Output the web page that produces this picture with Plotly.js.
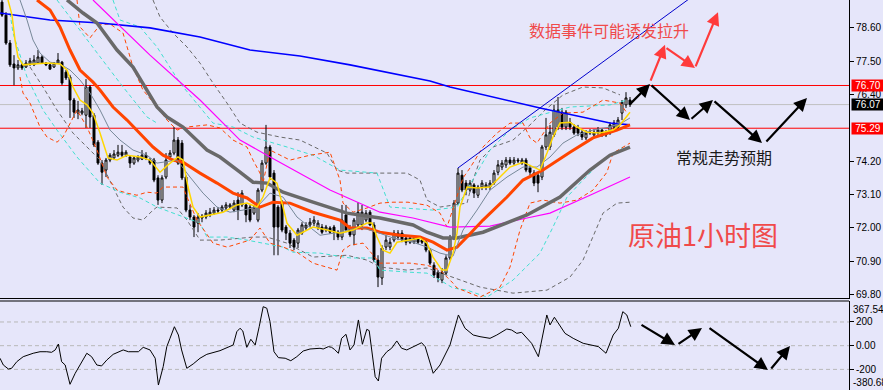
<!DOCTYPE html>
<html><head><meta charset="utf-8">
<script src="https://cdn.plot.ly/plotly-3.0.1.min.js"></script>
<style>html,body{margin:0;padding:0;background:#e6e6fa;}#chart{width:883px;height:390px;}</style>
</head><body><div id="chart"></div>
<script>
// ---- candles (1h crude oil) ----
const barOpen = [79.45,79.02,78.10,77.41,77.28,77.38,77.31,77.41,77.38,77.44,77.64,77.44,77.38,77.31,77.44,77.47,77.14,76.98,76.22,75.79,
75.79,75.72,76.65,75.72,74.83,74.14,73.91,74.24,74.31,74.40,74.50,74.40,74.34,74.14,74.24,74.27,74.40,74.24,74.24,73.65,
72.92,73.68,74.34,74.47,74.90,74.80,73.68,72.59,72.36,72.16,72.33,72.36,72.43,72.49,72.59,72.59,72.66,72.69,72.59,72.92,
72.76,72.76,72.69,72.49,72.26,73.25,74.14,74.67,73.81,72.69,72.82,72.03,71.83,71.60,71.50,71.83,72.00,72.10,72.16,72.00,
72.03,71.93,72.00,72.03,71.86,71.70,72.43,72.00,71.77,72.10,72.10,72.26,72.52,72.10,70.94,70.35,71.37,71.37,71.60,71.70,
71.83,71.67,71.53,71.53,71.67,71.60,71.53,71.27,70.77,70.54,70.28,70.51,71.01,71.67,72.82,73.74,73.48,73.25,73.42,73.08,
73.35,73.35,73.35,73.48,73.84,74.01,74.08,74.24,74.14,74.24,74.14,74.24,73.98,73.81,73.74,73.68,74.67,74.67,75.07,75.33,
75.82,75.33,75.49,75.33,75.30,75.16,74.97,75.13,75.07,75.13,75.23,75.07,75.13,75.33,75.33,75.79,76.06,76.22];
const barHigh = [79.52,79.12,78.20,77.70,77.54,77.44,77.54,77.61,77.70,77.87,77.70,77.47,77.44,77.47,77.77,77.51,77.21,77.05,76.29,76.19,
75.96,76.91,76.71,75.79,74.90,74.24,74.31,74.47,74.57,74.74,74.74,74.57,74.40,74.37,74.40,74.57,74.50,74.31,74.31,73.74,
73.74,74.47,74.57,75.33,75.00,74.90,73.74,72.76,72.43,72.49,72.46,72.59,72.66,72.69,72.69,72.76,72.85,72.82,72.92,73.18,
73.25,72.82,72.76,72.76,73.32,74.24,75.40,74.74,73.91,72.76,72.92,72.10,71.93,71.67,72.00,72.19,72.19,72.33,72.39,72.26,
72.13,72.10,72.06,72.10,71.93,72.76,72.76,72.10,72.33,72.85,72.76,72.59,72.59,72.19,71.10,71.43,71.77,71.67,71.93,71.93,
71.93,71.77,71.73,71.73,71.73,71.70,71.60,71.34,70.87,70.61,70.68,71.10,71.77,72.92,73.98,73.91,73.58,73.58,73.48,73.42,
73.58,73.51,73.58,73.91,74.24,74.24,74.34,74.34,74.34,74.31,74.31,74.31,74.08,73.91,73.84,74.74,75.63,75.40,76.06,76.32,
75.96,75.89,75.63,75.43,75.40,75.23,75.23,75.26,75.26,75.33,75.30,75.23,75.49,75.56,75.66,76.22,76.48,76.32];
const barLow = [78.96,78.04,77.31,76.71,77.21,77.21,77.28,77.34,77.34,77.41,77.41,77.34,77.21,77.28,77.41,76.71,76.88,75.63,75.63,75.59,
75.72,75.30,75.30,74.67,74.08,73.42,73.68,74.17,74.24,74.34,74.34,74.34,73.98,74.08,74.17,74.24,74.24,74.08,73.51,72.76,
72.82,73.61,74.24,74.40,74.08,73.58,72.52,72.26,71.70,71.86,72.19,72.29,72.36,72.43,72.49,72.52,72.59,72.62,72.52,72.26,
72.69,72.19,72.19,72.43,72.19,73.18,74.08,73.58,71.10,71.10,71.86,71.60,71.34,71.27,71.34,71.77,71.93,72.03,72.06,71.93,
71.80,71.86,71.80,71.60,71.60,71.60,71.86,71.70,71.43,72.03,71.93,72.19,72.06,70.87,70.05,70.12,71.27,71.27,71.53,71.60,
71.53,71.43,71.47,71.47,71.47,71.47,71.20,70.77,70.35,70.21,70.18,70.45,70.94,71.60,72.76,73.18,73.08,73.18,72.99,72.99,
73.25,73.25,73.25,73.42,73.74,73.91,73.98,74.08,74.08,74.14,74.08,73.84,73.74,73.38,73.18,73.58,74.57,74.57,75.00,75.23,
75.23,75.23,75.23,75.07,75.03,74.90,74.90,75.07,75.00,75.07,75.00,75.00,75.07,75.26,75.26,75.56,75.96,75.99];
const barClose = [79.02,78.10,77.38,77.28,77.38,77.28,77.44,77.51,77.54,77.64,77.44,77.38,77.24,77.44,77.54,76.78,76.95,76.22,75.82,75.89,
75.86,76.65,75.66,74.74,74.14,73.84,74.24,74.40,74.44,74.50,74.40,74.50,74.14,74.31,74.34,74.40,74.31,74.14,73.58,72.92,
73.65,74.24,74.47,74.90,74.14,73.65,72.59,72.36,72.03,72.36,72.39,72.49,72.52,72.59,72.56,72.69,72.76,72.76,72.82,72.59,
73.15,72.43,72.26,72.69,73.25,74.14,74.67,73.68,72.03,72.03,71.93,71.83,71.50,71.37,71.93,72.10,72.10,72.19,72.26,72.16,
71.86,72.03,71.86,71.86,71.70,72.26,71.93,71.77,72.26,72.52,72.52,72.49,72.10,70.94,70.38,71.34,71.60,71.53,71.83,71.83,
71.60,71.53,71.67,71.67,71.53,71.53,71.27,70.84,70.45,70.35,70.54,71.01,71.67,72.82,73.81,73.25,73.25,73.48,73.15,73.35,
73.48,73.42,73.48,73.81,74.08,74.14,74.24,74.14,74.24,74.21,74.24,73.91,73.84,73.48,73.48,74.67,75.07,75.16,75.89,75.89,
75.33,75.82,75.33,75.13,75.13,75.00,75.13,75.16,75.16,75.23,75.07,75.16,75.40,75.46,75.56,76.15,76.29,76.07];
const barIndex = barOpen.map((_, i) => i);

// ---- moving averages ----
const maBlueX = [-0.5,12,24.5,37,49.5,62,74.5,87,107,112,134.5,139.5,152,157];
const maBlueY = [79.09,78.86,78.76,78.60,78.30,77.87,77.67,77.38,76.85,76.65,75.96,75.82,75.46,75.40];
const channelX = [114,174.5];
const channelY = [73.98,79.82];
const maMagentaX = [22.75,37,49.5,59.5,66.25,72,82,94.5,102.75,112,122,131.25,137,147,157];
const maMagentaY = [79.52,77.70,76.22,74.90,74.40,73.98,73.25,72.52,72.33,72.03,72.06,72.33,72.49,73.08,73.68];
const maGreyX = [16.25,20.25,23.75,28.75,32.75,36.25,38.75,41.25,45.25,51.25,54.5,59.5,62.75,66.25,70.25,77.75,86.25,94.5,102.75,106.25,110.25,113.75,120.25,131.25,139.5,147,152,157];
const maGreyY = [79.52,79.09,78.76,77.87,77.31,76.55,75.99,75.66,75.33,74.57,74.34,73.84,73.51,73.48,73.18,72.85,72.49,72.33,72.10,71.86,71.67,71.67,71.86,72.43,73.02,73.91,74.40,74.67];
const maOrangeX = [8.75,12,14.5,17,19.5,22.75,24.5,27.75,31.25,34.5,37.75,40.25,42.75,45.25,49.5,53.75,57.75,61.25,64.5,67.75,72,77.75,84.5,87,91.25,94.5,99.5,104.5,107.75,111.25,113.75,116.25,120.25,126.25,130.25,135.25,142,147.75,153.75,157];
const maOrangeY = [79.52,79.19,78.63,77.87,77.21,76.81,76.55,75.99,75.56,75.13,74.67,74.40,74.24,74.17,73.81,73.48,73.15,72.99,72.69,72.85,72.82,72.52,72.26,72.00,72.00,71.86,71.76,71.70,71.53,71.27,71.37,71.70,72.26,73.02,73.58,73.91,74.50,74.97,75.23,75.40];
const maYellowX = [1.5,2.5,3.25,4,5.25,7.75,11.25,14.5,16.25,17.75,19.5,21.25,22.75,24.5,25.75,26.5,28.75,31.25,34.5,37,39.5,41.5,44,45.25,46.5,47.75,49.5,52,55.25,58.75,61.25,63.75,65.25,67,68.75,70,71.25,73.75,76.5,77.75,81.25,84.5,87.75,91.25,92.5,93.75,95.25,97,98.75,101.25,104.5,106.25,107.75,110,111.25,112.75,113.75,114.5,116.25,118.75,122,124.5,127,130.25,132.75,134.5,136.25,137.75,139.5,142,143.75,146.25,149.5,152.75,154.5,157];
const maYellowY = [79.52,79.02,78.20,77.64,77.38,77.41,77.44,77.41,77.21,76.65,76.22,76.06,75.79,75.13,74.57,74.31,74.24,74.40,74.34,74.24,73.84,74.08,74.34,74.24,73.35,72.69,72.36,72.43,72.52,72.76,72.82,72.69,73.02,73.65,73.48,72.82,72.16,71.76,71.93,72.03,71.93,71.83,71.93,72.16,72.16,71.70,71.27,71.17,71.53,71.60,71.67,71.50,71.04,70.61,70.61,71.17,71.83,72.69,73.35,73.32,73.35,73.68,74.01,74.17,74.01,73.91,74.47,75.00,75.46,75.49,75.33,75.16,75.13,75.23,75.40,75.82];
const maSlateX = [4.5,6.25,7.75,9.5,12,14.5,17,19.5,22,24.5,27,29.5,32.75,36.25,38.75,43.75,47,50.25,53.75,57,60.25,63.75,67,70.25,73.75,79.5,84.5,89.5,93.75,97.75,102.75,106.25,109.5,112.75,115.25,118.75,122,126.25,130.25,133.75,137,140.25,143.75,147.75,152,155.25,157];
const maSlateY = [79.52,78.86,78.20,77.77,77.47,77.41,77.21,76.88,76.45,75.89,75.23,74.90,74.57,74.40,74.14,74.24,73.68,73.15,72.69,72.52,72.59,72.69,73.15,73.02,72.36,71.76,71.86,72.03,71.86,71.67,71.53,71.37,71.17,71.07,71.93,72.59,73.25,73.68,74.01,74.01,74.34,74.80,75.07,75.23,75.33,75.49,75.63];

// ---- bands (dashed) ----
const bandOrangeUpX = [18.75,19.5,22,24.5,27,30.25,32.75,35.25,38.75,41.25,43.75,46.25,51.25,54.5,57.75,61.25,62.75,64.5,65.25,67,72,77,82,84.5,85.25,87.75,91.25,94.5,97.75,101.5,106.25,109.5,111.25,115.25,117,120.25,123.75,127,130.25,132,133.75,137,140.25,145.25,150.25,154.5,156.25];
const bandOrangeUpY = [79.52,78.63,78.27,78.70,78.73,78.43,77.31,76.55,75.99,75.56,75.23,75.33,75.40,75.30,74.90,74.67,74.24,73.81,73.48,74.57,74.24,74.40,74.50,73.58,72.82,72.52,72.66,72.82,72.85,72.85,72.75,72.49,72.03,73.65,73.98,74.67,75.13,75.46,75.46,74.97,74.80,75.46,75.79,75.82,76.22,76.12,75.79];
const bandOrangeLoX = [4.5,5.25,7,9.5,11.25,13.75,15.25,17,18.75,21.25,23.75,26.25,28.75,31.25,33.75,36.25,38.75,40.25,45.25,46.25,48.75,52.75,56.25,59.5,62,64.5,67,70.25,73.75,77.75,81.25,83.75,85.25,87,90.25,94.5,97.75,102,106.25,109.5,112.75,113.75,119.5,124.5,127,129.5,132,135.25,139.5,143.75,147.75,151.25,152.75,155.25,157];
const bandOrangeLoY = [76.98,76.45,76.12,75.33,75.00,74.83,75.00,75.46,75.89,75.33,74.57,73.68,73.25,73.15,73.08,73.18,73.15,73.35,73.35,73.02,72.26,71.50,71.37,71.50,71.60,72.00,71.50,71.37,71.20,70.84,70.71,70.61,71.27,71.43,71.50,70.84,70.84,70.84,70.77,70.61,70.18,70.02,69.72,70.05,70.71,71.93,72.82,72.92,72.82,72.92,73.25,73.84,74.47,74.67,74.80];
const bandCyanUpAX = [13.75,16.25,23.75,29.5,36.25,38.75];
const bandCyanUpAY = [79.52,79.09,77.77,76.78,75.66,75.46];
const bandCyanUpBX = [27.75,29.5,34.5,38.75,44.5,49.5,52.75,57.75,62.75,71.25,77.75,84.5,93.75,97,107.75,113.75,122,127,132,142,152,156.25];
const bandCyanUpBY = [79.52,78.86,78.63,77.97,76.78,75.99,75.46,75.33,75.00,74.67,74.40,73.91,73.81,72.69,72.59,72.69,74.57,75.23,75.63,75.99,76.06,76.22];
const bandCyanLoX = [2,2.75,6.25,10.25,13.75,18.75,24.5,29.5,34.5,38.75,49.5,51.25,56.25,61.25,70.25,72.75,79.5,87,92.75,94.5,102,106.25,109.5,112.75,116.25,121.25,127.75,134.5,137.75,141.25,145.25,150.25,155.25];
const bandCyanLoY = [79.09,78.43,76.98,75.89,75.23,74.34,73.48,73.18,72.99,72.69,72.16,71.70,71.70,71.60,71.37,71.20,71.17,71.01,71.01,70.61,70.54,70.51,70.28,70.02,69.95,69.72,70.28,71.17,72.03,73.02,73.58,74.24,74.67];
const bandGreyUpX = [37.75,39.5,42.75,46.25,49.5,52.75,56.25,59.5,63.75,69.5,74.5,81.25,83.75,86.25,101.25,104.5,106.25,109.5,116.25,117.75,119.5,122.75,127.75,132,135.75,140.25,145.25,150.25,154.5];
const bandGreyUpY = [79.52,78.96,78.43,77.97,77.44,76.78,76.12,75.46,75.16,75.00,74.90,74.47,73.91,73.81,73.81,73.58,72.92,72.69,72.82,73.58,74.24,74.67,74.90,75.40,75.89,76.39,76.65,76.62,76.39];
const bandGreyLoX = [7,10.25,13.75,17.75,21.25,24.5,27.75,30.25,32.75,35.25,37.75,38.75,43.75,46.25,49.5,54.5,62.75,66.25,71.25,77.75,86.25,91.25,94.5,101.25,106.25,112.75,119.5,127.75,136.25,142,145.25,150.25,153.75,157];
const bandGreyLoY = [77.31,76.65,75.89,75.13,74.67,74.24,73.35,72.69,72.33,72.26,72.59,72.69,72.66,72.26,71.60,71.60,71.70,71.70,71.50,71.04,71.10,70.94,70.71,70.61,70.68,70.38,70.05,69.85,69.95,70.38,70.94,72.49,72.82,72.85];

// ---- CCI sub-window ----
const cciX = [-0.5,0.33,1.6,2.4,3.7,5.3,7.8,9.5,11.2,12.4,13.3,14.1,14.9,15.8,17,18.3,19.5,21.2,22.4,23.7,24.9,26.2,27.8,30.3,31.6,34.1,35.3,37,38.3,39.1,40.3,41.2,42,43.1,44.1,44.9,46.2,47.8,49.5,51.2,54.5,57.8,58.7,59.5,60.2,61.2,62.2,63.3,64.3,65.3,66.2,67,68,69.1,70.8,72.2,73.7,75.3,77,79.5,80.3,81.6,82.4,83.1,84.1,84.9,86,87,88,89.1,90.1,91.2,91.8,92.4,93.3,94.1,94.9,96.2,97.4,98.7,99.9,101.2,102.8,104.9,105.8,107.8,109.5,110.75,112,114.1,115.75,117.8,119.5,122,123.7,126.2,127.4,128.7,129.9,132.4,134.1,136.2,137,138.1,140.75,142.8,145.3,149.1,151,152.8,154.1,155.2,156.2,157.2];
const cciV = [-106,-163,-197,-191,-135,-93,-64,-51,-51,-56,-36,14,-135,-163,-326,-233,-163,-64,-93,-163,-171,-121,-73,-36,-51,-51,-14,-36,-106,-332,-177,-8,62,160,90,-36,-191,-154,-106,-73,-42,6,118,147,124,-14,54,6,160,329,316,203,-51,-101,-106,-127,-93,-45,-28,-22,-28,-8,-14,-31,-64,62,96,-36,6,217,12,138,127,-22,-262,-298,-106,-51,-22,40,-22,-36,-8,25,-8,-233,-163,-78,6,259,147,90,76,62,90,141,132,104,113,20,-93,259,175,240,104,62,20,-8,-64,90,147,287,259,160];
const cciLevels = [200, 0, -200];
const cciMax = 367.546, cciMin = -380.68;

// ---- levels & labels ----
const priceTicks = [69.8,70.9,72.0,73.1,74.2,76.4,77.5,78.6];
const resistance = 76.70, support = 75.29, lastPrice = 76.07;
const textUp = '数据事件可能诱发拉升';
const textNormal = '常规走势预期';
const textTitle = '原油1小时图';
// forecast arrows [tailX, tailY, headX, headY]
const blackArrows = [[156.5,76.02,162,76.75],[162,76.75,172,75.56],[172,75.56,177.75,76.22],[177.75,76.22,190,74.80],[190.75,74.80,201.25,76.29]];
const redArrows = [[162,76.81,165.75,78.04],[165.75,77.97,173.25,77.28],[173.25,77.28,179,79.12]];
const cciArrows = [[159.5,183,168.25,6],[168.75,6,175,149],[176.5,158,191.5,-205],[192,-205,197,-3]];

function ln(x, y, color, width, dash, yax) {
  return {type:'scatter', mode:'lines', x:x, y:y, xaxis: yax==='y2'?'x2':'x', yaxis: yax||'y',
    line:{color:color, width:width, dash:dash||'solid'}, hoverinfo:'skip'};
}
const D = '4px,3px';
const traces = [
  {type:'candlestick', x:barIndex, open:barOpen, high:barHigh, low:barLow, close:barClose,
   xaxis:'x', yaxis:'y', whiskerwidth:0, hoverinfo:'skip',
   increasing:{line:{color:'#000', width:1}, fillcolor:'#ffffff'},
   decreasing:{line:{color:'#000', width:1}, fillcolor:'#000000'}},
  ln(bandGreyUpX, bandGreyUpY, '#696969', 1, D),
  ln(bandGreyLoX, bandGreyLoY, '#696969', 1, D),
  ln(bandCyanUpAX, bandCyanUpAY, '#40e0d0', 1, D),
  ln(bandCyanUpBX, bandCyanUpBY, '#40e0d0', 1, D),
  ln(bandCyanLoX, bandCyanLoY, '#40e0d0', 1, D),
  ln(bandOrangeUpX, bandOrangeUpY, '#ff4500', 1, D),
  ln(bandOrangeLoX, bandOrangeLoY, '#ff4500', 1, D),
  ln(maBlueX, maBlueY, '#0000ff', 1.6),
  ln(channelX, channelY, '#0000cd', 1),
  ln(maMagentaX, maMagentaY, '#ff00ff', 1.2),
  ln(maGreyX, maGreyY, '#696969', 3.5),
  ln(maOrangeX, maOrangeY, '#ff4500', 3),
  ln(maSlateX, maSlateY, '#778899', 1),
  ln(maYellowX, maYellowY, '#ffd700', 1.5),
  ln(cciX, cciV, '#000000', 1, 'solid', 'y2')
];

const shapes = [
  {type:'line', xref:'paper', x0:0, x1:1, yref:'y', y0:resistance, y1:resistance, line:{color:'#ff0000', width:1}, layer:'below'},
  {type:'line', xref:'paper', x0:0, x1:1, yref:'y', y0:support, y1:support, line:{color:'#ff0000', width:1}, layer:'below'},
  {type:'line', xref:'paper', x0:0, x1:1, yref:'y', y0:lastPrice, y1:lastPrice, line:{color:'#c0c0c0', width:1}, layer:'below'},
  {type:'line', xref:'paper', x0:0, x1:1, yref:'paper', y0:1-301/390, y1:1-301/390, line:{color:'#000', width:1}}
];
cciLevels.forEach(v => shapes.push({type:'line', xref:'paper', x0:0, x1:1, yref:'y2', y0:v, y1:v,
  line:{color:'#b8b8b8', width:1, dash:'4px,3px'}, layer:'below'}));

const ann = [];
function arrow(a, color, xr, yr) {
  ann.push({x:a[2], y:a[3], ax:a[0], ay:a[1], xref:xr, yref:yr, axref:xr, ayref:yr,
    text:'', showarrow:true, arrowhead:2, arrowsize:1.2, arrowwidth:2.2, arrowcolor:color, standoff:0, startstandoff:0});
}
blackArrows.forEach(a => arrow(a, '#000000', 'x', 'y'));
redArrows.forEach(a => arrow(a, '#ff3b3b', 'x', 'y'));
cciArrows.forEach(a => arrow(a, '#000000', 'x2', 'y2'));

const CJK = '"Noto Sans CJK SC", "Noto Sans", sans-serif';
ann.push({x:151.75, y:78.53, xref:'x', yref:'y', text:textUp, showarrow:false, font:{family:CJK, size:16, color:'#f04a4a'}});
ann.push({x:180.5, y:74.34, xref:'x', yref:'y', text:textNormal, showarrow:false, font:{family:CJK, size:16, color:'#1a1a1a'}});
ann.push({x:175.25, y:71.77, xref:'x', yref:'y', text:textTitle, showarrow:false, font:{family:CJK, size:27, color:'#f04a4a'}});

function priceTag(v, bg) {
  ann.push({xref:'paper', x:1, xanchor:'left', xshift:2, yref:'y', y:v, text:v.toFixed(2), showarrow:false,
    bgcolor:bg, borderpad:1, width:30, height:9, font:{family:'Liberation Sans, Arial', size:10, color:'#ffffff'}});
}
priceTag(resistance, '#ff0000');
priceTag(lastPrice, '#000000');
priceTag(support, '#ff0000');
ann.push({xref:'paper', x:1, xanchor:'left', xshift:2, yref:'y2', y:cciMax, yanchor:'top', text:String(cciMax), showarrow:false,
  font:{family:'Liberation Sans, Arial', size:10, color:'#000'}});
ann.push({xref:'paper', x:1, xanchor:'left', xshift:2, yref:'paper', y:0, yanchor:'bottom', text:cciMin.toFixed(2), showarrow:false,
  font:{family:'Liberation Sans, Arial', size:10, color:'#000'}});

const tickFont = {family:'Liberation Sans, Arial', size:10, color:'#000'};
const layout = {
  width:883, height:390, margin:{l:0, r:34, t:0, b:0}, showlegend:false,
  paper_bgcolor:'#e6e6fa', plot_bgcolor:'#e6e6fa', dragmode:false,
  xaxis:{domain:[0,1], range:[-0.5,211.75], anchor:'y', showgrid:false, zeroline:false, showticklabels:false, ticks:'',
    showline:true, linecolor:'#000', linewidth:1, rangeslider:{visible:false}, fixedrange:true},
  xaxis2:{domain:[0,1], range:[-0.5,211.75], anchor:'y2', showgrid:false, zeroline:false, showticklabels:false, ticks:'',
    showline:false, fixedrange:true},
  yaxis:{domain:[1-298/390,1], range:[69.69,79.52], side:'right', showline:true, linecolor:'#000', linewidth:1,
    ticks:'outside', ticklen:4, tickcolor:'#000', tickvals:priceTicks, ticktext:priceTicks.map(v=>v.toFixed(2)),
    tickfont:tickFont, showgrid:false, zeroline:false, fixedrange:true},
  yaxis2:{domain:[0,1-301/390], range:[-374,377], side:'right', showline:true, linecolor:'#000', linewidth:1,
    ticks:'outside', ticklen:4, tickcolor:'#000', tickvals:cciLevels, ticktext:['200','0.00','-200'],
    tickfont:tickFont, showgrid:false, zeroline:false, fixedrange:true},
  shapes:shapes, annotations:ann
};
Plotly.newPlot('chart', traces, layout, {staticPlot:true, displayModeBar:false});
</script></body></html>
